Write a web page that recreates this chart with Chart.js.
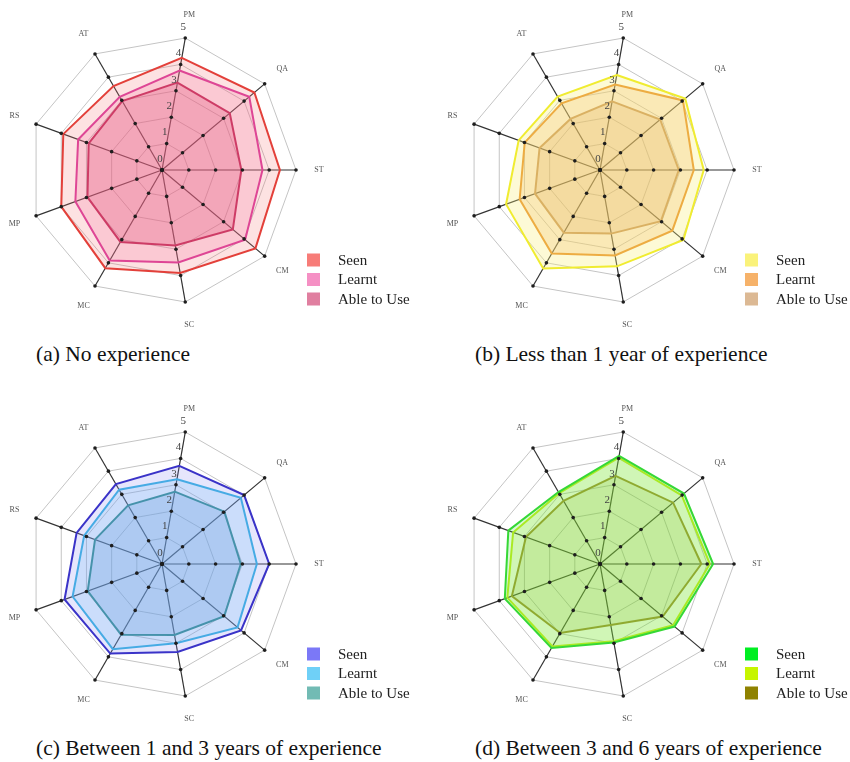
<!DOCTYPE html>
<html>
<head>
<meta charset="utf-8">
<script src="https://cdn.jsdelivr.net/npm/chart.js@4.4.1/dist/chart.umd.min.js"></script>
<style>
  html, body { margin: 0; padding: 0; background: #fff; }
  body { width: 850px; height: 762px; position: relative; overflow: hidden; font-family: "Liberation Serif", serif; }
  .panel { position: absolute; }
  .panel canvas { display: block; }
  .cap { position: absolute; font-size: 21.5px; line-height: 24px; color: #111; white-space: nowrap; }
</style>
</head>
<body>
<div class="panel" style="left:0;top:0"><canvas id="radarA" width="425" height="330"></canvas></div>
<div class="panel" style="left:425px;top:0"><canvas id="radarB" width="425" height="330"></canvas></div>
<div class="panel" style="left:0;top:394px"><canvas id="radarC" width="425" height="330"></canvas></div>
<div class="panel" style="left:425px;top:394px"><canvas id="radarD" width="425" height="330"></canvas></div>

<div class="cap" style="left:36px;top:342px">(a) No experience</div>
<div class="cap" style="left:475px;top:342px">(b) Less than 1 year of experience</div>
<div class="cap" style="left:36px;top:736px">(c) Between 1 and 3 years of experience</div>
<div class="cap" style="left:475px;top:736px">(d) Between 3 and 6 years of experience</div>

<script>
// Skill areas, clockwise starting just right of the top
const categories = ['PM', 'QA', 'ST', 'CM', 'SC', 'MC', 'MP', 'RS', 'AT'];
const tickLabels = ['0', '1', '2', '3', '4', '5'];
const seriesNames = ['Seen', 'Learnt', 'Able to Use'];

// (a) No experience
const noExpSeen   = [4.25, 4.50, 4.40, 4.55, 3.90, 4.23, 4.00, 3.92, 3.62];
const noExpLearnt = [3.77, 4.25, 3.75, 4.05, 3.50, 3.90, 3.44, 3.33, 3.15];
const noExpAble   = [3.31, 3.30, 2.96, 3.45, 2.86, 3.10, 2.96, 2.91, 2.97];

// (b) Less than 1 year of experience
const under1Seen   = [3.60, 4.15, 3.87, 4.06, 3.65, 4.24, 3.73, 3.23, 3.16];
const under1Learnt = [3.24, 4.04, 3.50, 3.52, 3.24, 3.60, 3.19, 2.99, 2.87];
const under1Able   = [2.60, 2.93, 2.94, 2.97, 2.41, 2.70, 2.58, 2.40, 2.20];

// (c) Between 1 and 3 years of experience
const y1to3Seen   = [3.72, 4.00, 4.00, 3.85, 3.33, 3.86, 3.87, 3.39, 3.44];
const y1to3Learnt = [3.21, 3.84, 3.54, 3.68, 3.00, 3.67, 3.55, 3.09, 3.20];
const y1to3Able   = [2.74, 3.04, 2.94, 3.03, 2.69, 3.05, 2.95, 2.66, 2.53];

// (d) Between 3 and 6 years of experience
const y3to6Seen   = [4.10, 4.09, 4.22, 3.63, 2.97, 3.62, 3.78, 3.64, 3.10];
const y3to6Learnt = [4.03, 3.98, 4.10, 3.56, 2.93, 3.55, 3.68, 3.45, 3.05];
const y3to6Able   = [3.34, 3.56, 3.78, 3.05, 2.31, 2.97, 3.50, 2.94, 2.72];

const SERIF = '"Liberation Serif", "Times New Roman", serif';

// Draws the tick dots, upright tick numbers, axis names and the legend box
const radarDecor = {
  id: 'radarDecor',
  afterDatasetsDraw(chart, args, opts) {
    const r = chart.scales.r;
    const ctx = chart.ctx;
    ctx.save();

    ctx.fillStyle = '#1e1e1e';
    for (let i = 0; i < chart.data.labels.length; i++) {
      for (let v = r.min; v <= r.max; v++) {
        const p = r.getPointPositionForValue(i, v);
        ctx.beginPath();
        ctx.arc(p.x, p.y, 1.8, 0, Math.PI * 2);
        ctx.fill();
      }
    }

    ctx.textAlign = 'center';
    ctx.textBaseline = 'middle';
    ctx.font = '11px ' + SERIF;
    ctx.fillStyle = '#444';
    tickLabels.forEach(t => {
      const p = r.getPointPositionForValue(0, Number(t));
      ctx.fillText(t, p.x - 2, p.y - 11);
    });

    ctx.font = '8px ' + SERIF;
    ctx.fillStyle = '#555';
    chart.data.labels.forEach((lab, i) => {
      const p = r.getPointPosition(i, r.drawingArea + 23);
      ctx.fillText(lab, p.x, p.y);
    });

    ctx.textAlign = 'left';
    ctx.font = '15px ' + SERIF;
    chart.data.datasets.forEach((ds, k) => {
      const y = opts.y + k * 19.5;
      ctx.fillStyle = opts.swatches[k];
      ctx.fillRect(opts.x, y - 6.5, 13, 13);
      ctx.fillStyle = '#222';
      ctx.fillText(ds.label, opts.x + 31, y + 1);
    });

    ctx.restore();
  }
};

function makeRadar(id, series, lines, fills, swatches, pad, legendX) {
  new Chart(document.getElementById(id), {
    type: 'radar',
    data: {
      labels: categories,
      datasets: series.map((vals, k) => ({
        label: seriesNames[k],
        data: vals,
        borderColor: lines[k],
        backgroundColor: fills[k],
        borderWidth: 2,
        fill: true,
        pointRadius: 0,
        pointHoverRadius: 0,
        tension: 0
      }))
    },
    options: {
      responsive: false,
      animation: false,
      events: [],
      layout: { padding: pad },
      plugins: {
        legend: { display: false },
        tooltip: { enabled: false },
        radarDecor: { x: legendX, y: 260, swatches: swatches }
      },
      scales: {
        r: {
          min: 0,
          max: 5,
          startAngle: 10,
          ticks: { display: false, stepSize: 1 },
          pointLabels: { display: false },
          grid: { color: '#c4c4c4', lineWidth: 1 },
          angleLines: { color: '#333', lineWidth: 1.2 }
        }
      }
    },
    plugins: [radarDecor]
  });
}

const padLeftCol  = { left: 28, top: 36, right: 129, bottom: 26 };
const padRightCol = { left: 41, top: 36, right: 116, bottom: 26 };

makeRadar('radarA', [noExpSeen, noExpLearnt, noExpAble],
  ['#e3403a', '#d93c9f', '#b81f52'],
  ['rgba(245,110,110,0.20)', 'rgba(240,110,170,0.22)', 'rgba(215,70,115,0.30)'],
  ['#f77c78', '#f590c4', '#e07fa0'], padLeftCol, 307);

makeRadar('radarB', [under1Seen, under1Learnt, under1Able],
  ['#f0ec30', '#e8902c', '#c0905c'],
  ['rgba(250,240,120,0.30)', 'rgba(240,170,90,0.28)', 'rgba(200,140,80,0.25)'],
  ['#faf27a', '#f6b26a', '#dcb994'], padRightCol, 320);

makeRadar('radarC', [y1to3Seen, y1to3Learnt, y1to3Able],
  ['#3a33c8', '#38b6e2', '#2b8a80'],
  ['rgba(130,130,240,0.20)', 'rgba(100,200,245,0.22)', 'rgba(100,160,210,0.30)'],
  ['#7b78f7', '#6fd0f7', '#72bbb4'], padLeftCol, 307);

makeRadar('radarD', [y3to6Seen, y3to6Learnt, y3to6Able],
  ['#36d836', '#c6ee1e', '#9c8a30'],
  ['rgba(60,220,60,0.20)', 'rgba(200,240,40,0.20)', 'rgba(140,160,40,0.18)'],
  ['#00ee22', '#c6f500', '#8f8200'], padRightCol, 320);
</script>
</body>
</html>
